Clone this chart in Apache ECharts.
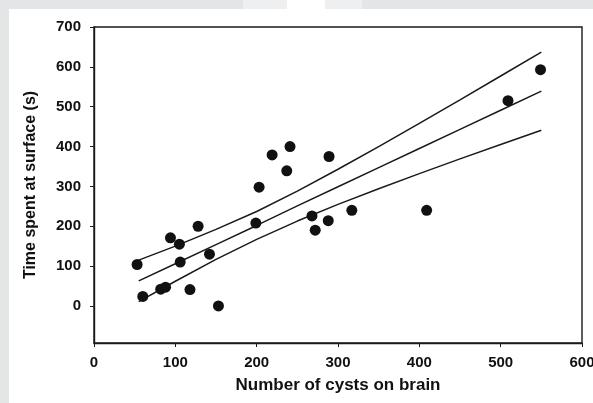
<!DOCTYPE html>
<html>
<head>
<meta charset="utf-8">
<script src="https://cdn.jsdelivr.net/npm/echarts@6/dist/echarts.min.js"></script>
<style>
html,body{margin:0;padding:0;background:#fff;}
#chart{width:593px;height:403px;}
</style>
</head>
<body>
<div id="chart"></div>
<script>
// Observed data points
var cystsX = [53, 60, 82, 88, 94, 105, 106, 118, 128, 142, 153, 199, 203, 219, 237, 241, 289, 268, 272, 288, 317, 409, 509, 549];
var timeY  = [104, 24, 42, 47, 171, 155, 110, 41, 200, 130, 0, 208, 298, 379, 339, 400, 375, 226, 190, 214, 240, 240, 515, 593];

// Regression line and confidence band
var lineX  = [55, 100, 150, 200, 250, 300, 350, 400, 450, 500, 550];
var fitY   = [63, 106, 154, 202, 251, 299, 347, 395, 443, 491, 539];
var upperY = [115, 150, 192, 237, 288, 343, 400, 458, 517, 577, 637];
var lowerY = [11, 62, 117, 167, 213, 255, 294, 332, 369, 405, 441];

// Tick labels
var xTicks = [0, 100, 200, 300, 400, 500, 600];
var yTicks = [0, 100, 200, 300, 400, 500, 600, 700];

function pairs(xs, ys){ return xs.map(function(x,i){ return [x, ys[i]]; }); }

var chart = echarts.init(document.getElementById('chart'), null, {renderer:'canvas'});
var font = 'Liberation Sans, Arial, sans-serif';
var lineStyle = {color:'#1a1a1a', width:1.5};

chart.setOption({
  backgroundColor:'#ffffff',
  animation:false,
  graphic:[
    {type:'rect', left:0, top:0, shape:{width:9, height:403}, style:{fill:'#e4e5e7'}, z:-10},
    {type:'rect', left:0, top:0, shape:{width:243, height:9}, style:{fill:'#e4e5e7'}, z:-10},
    {type:'rect', left:243, top:0, shape:{width:44, height:9}, style:{fill:'#eeeff0'}, z:-10},
    {type:'rect', left:325, top:0, shape:{width:37, height:9}, style:{fill:'#eeeff0'}, z:-10},
    {type:'rect', left:362, top:0, shape:{width:231, height:9}, style:{fill:'#e4e5e7'}, z:-10}
  ],
  grid:{left:94, right:11, top:27, bottom:60, outerBoundsMode:'none', containLabel:false,
    show:true, borderColor:'#1a1a1a', borderWidth:1.4, backgroundColor:'transparent'},
  xAxis:{
    type:'value', min:0, max:600, interval:100,
    name:'Number of cysts on brain', nameLocation:'middle', nameGap:34,
    nameTextStyle:{fontFamily:font, fontWeight:'bold', fontSize:17, color:'#111'},
    axisLine:{show:true, onZero:false, lineStyle:{color:'#1a1a1a', width:1.4}},
    axisTick:{show:true, inside:false, length:4, lineStyle:{color:'#1a1a1a'}},
    axisLabel:{fontFamily:font, fontWeight:'bold', fontSize:15, color:'#111', margin:12,
      customValues: xTicks},
    splitLine:{show:false}
  },
  yAxis:{
    type:'value', min:-93, max:700,
    name:'Time spent at surface (s)', nameLocation:'middle', nameGap:55, nameRotate:90,
    nameTextStyle:{fontFamily:font, fontWeight:'bold', fontSize:16, color:'#111'},
    axisLine:{show:true, onZero:false, lineStyle:{color:'#1a1a1a', width:1.4}},
    axisTick:{show:true, inside:false, length:4, lineStyle:{color:'#1a1a1a'}, customValues: yTicks},
    axisLabel:{fontFamily:font, fontWeight:'bold', fontSize:15, color:'#111', margin:13, customValues: yTicks},
    splitLine:{show:false}
  },
  series:[
    {type:'line', data:pairs(lineX, upperY), showSymbol:false, symbol:'none', lineStyle:lineStyle, z:2},
    {type:'line', data:pairs(lineX, fitY), showSymbol:false, symbol:'none', lineStyle:lineStyle, z:2},
    {type:'line', data:pairs(lineX, lowerY), showSymbol:false, symbol:'none', lineStyle:lineStyle, z:2},
    {type:'scatter', data:pairs(cystsX, timeY), symbol:'circle', symbolSize:11, itemStyle:{color:'#111', opacity:1}, z:3}
  ]
});
</script>
</body>
</html>
